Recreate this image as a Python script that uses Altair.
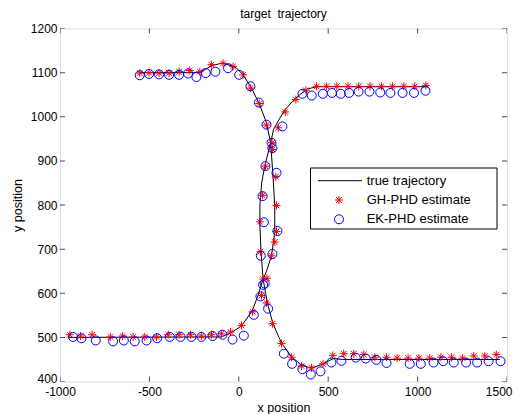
import altair as alt
import pandas as pd

# ---------------- data ----------------
# true trajectory, target A (starts top-left)
a_true_x = [-555, -250, -215, -150, -88, -15, 24, 71, 117, 155, 178, 190, 201, 201, 183, 155, 136,
            150, 165, 190, 239, 295, 351, 407, 471, 528, 580, 1460]
a_true_y = [1100, 1100, 1101, 1116, 1122, 1111, 1095, 1065, 1027, 986, 941, 873, 800, 738, 685, 650, 632,
            600, 570, 532, 487, 456, 437, 430, 440, 452, 450, 450]
# true trajectory, target B (starts bottom-left)
b_true_x = [-955, -100, -45, 15, 75, 110, 136, 125, 118, 118, 128, 145, 178, 195, 227, 257, 300, 341,
            385, 435, 1060]
b_true_y = [500, 501, 510, 526, 560, 598, 632, 690, 750, 800, 850, 888, 941, 972, 995, 1015, 1035, 1050,
            1063, 1068, 1068]

# GH-PHD estimates
gh_x = [-554, -502, -446, -390, -334, -274, -218, -153, -88, -32, 24, 65, 114, 154, 188, 207, 211, 211,
        201, 183, 158, 155, 188, 239, 295, 351, 407, 471, 526, 587, 643, 699, 761, 826, 885, 947, 1008,
        1068, 1130, 1190, 1251, 1314, 1376, 1440,
        -945, -885, -820, -718, -650, -591, -526, -460, -395, -334, -270, -209, -153, -97, -46, 15, 77,
        127, 136, 121, 118, 133, 149, 186, 220, 260, 319, 375, 435, 490, 548, 611, 671, 734, 798, 860,
        923, 984, 1046]
gh_y = [1099, 1100, 1099, 1099, 1102, 1105, 1102, 1118, 1121, 1114, 1095, 1065, 1030, 981, 926, 864, 799,
        740, 716, 685, 634, 578, 531, 486, 455, 435, 431, 440, 459, 463, 463, 461, 455, 455, 453, 453, 453,
        453, 455, 455, 453, 458, 458, 461,
        506, 503, 506, 501, 503, 501, 501, 501, 506, 506, 506, 503, 506, 508, 512, 527, 558, 595, 632,
        694, 762, 822, 888, 941, 975, 1011, 1039, 1060, 1069, 1069, 1069, 1069, 1069, 1069, 1069, 1069,
        1069, 1069, 1071]

# EK-PHD estimates
ek_x = [-554, -502, -446, -390, -334, -284, -237, -185, -131, -60, 2, 65, 112, 155, 188, 211, 216, 188,
        145, 164, 252, 298, 356, 403, 457, 518, 574, 654, 710, 769, 826, 956, 1018, 1089, 1143, 1202,
        1271, 1333, 1397, 1464,
        -927, -880, -800, -703, -643, -582, -516, -457, -386, -326, -265, -209, -147, -91, -35, 28, 84,
        121, 136, 123, 140, 133, 149, 183, 244, 356, 408, 470, 521, 570, 617, 670, 731, 791, 848, 916,
        980, 1044]
ek_y = [1094, 1097, 1096, 1095, 1095, 1098, 1090, 1099, 1102, 1110, 1095, 1069, 1032, 982, 929, 873, 741,
        689, 622, 565, 463, 440, 428, 416, 423, 443, 447, 454, 452, 449, 442, 440, 440, 443, 446, 443,
        443, 443, 446, 446,
        501, 498, 493, 491, 493, 491, 493, 498, 501, 501, 501, 501, 503, 506, 495, 504, 551, 593, 619,
        685, 761, 820, 888, 941, 978, 1052, 1048, 1052, 1054, 1052, 1054, 1057, 1057, 1055, 1054, 1054,
        1054, 1059]

x_ticks = [-1000, -500, 0, 500, 1000, 1500]
y_ticks = [400, 500, 600, 700, 800, 900, 1000, 1100, 1200]
legend_labels = ["true trajectory", "GH-PHD estimate", "EK-PHD estimate"]
title_text = "target \u00a0trajectory"

# ---------------- tables ----------------
true_df = pd.concat([
    pd.DataFrame({"x": a_true_x, "y": a_true_y, "target": "A", "idx": range(len(a_true_x))}),
    pd.DataFrame({"x": b_true_x, "y": b_true_y, "target": "B", "idx": range(len(b_true_x))}),
], ignore_index=True)
gh_df = pd.DataFrame({"x": gh_x, "y": gh_y})
ek_df = pd.DataFrame({"x": ek_x, "y": ek_y})
xt_df = pd.DataFrame({"v": x_ticks})
yt_df = pd.DataFrame({"v": y_ticks})
leg_df = pd.DataFrame({"label": legend_labels, "row": [0, 1, 2]})

# ---------------- styling ----------------
W, H = 447, 353
FONT = "Liberation Sans"
STAR = "M0,-1L0,1M-1,0L1,0M-0.7,-0.7L0.7,0.7M-0.7,0.7L0.7,-0.7"
PLAIN = "'' + datum.value"
LAST_X = f"datum.value == {x_ticks[-1]}"
FIRST_Y = f"datum.value == {y_ticks[0]}"

xs = alt.Scale(domain=[-1000, 1500], nice=False, zero=False)
ys = alt.Scale(domain=[400, 1200], nice=False, zero=False)

x_axis = alt.Axis(values=x_ticks, ticks=False, domain=False, grid=False, labelFlush=False,
                  labelOverlap=False, labelExpr=PLAIN, labelFont=FONT, labelFontSize=12,
                  labelColor="black", labelPadding=5,
                  labelAlign={"condition": {"test": LAST_X, "value": "right"}, "value": "center"},
                  labelOffset={"condition": {"test": LAST_X, "value": 5}, "value": 0},
                  title="x position", titleFont=FONT,
                  titleFontSize=12.5, titleFontWeight="normal", titleColor="black", titlePadding=4)
y_axis = alt.Axis(values=y_ticks, ticks=False, domain=False, grid=False, labelFlush=False,
                  labelOverlap=False, labelExpr=PLAIN, labelFont=FONT, labelFontSize=12,
                  labelColor="black", labelPadding=3,
                  labelOffset={"condition": {"test": FIRST_Y, "value": -3}, "value": 0},
                  title="y position", titleFont=FONT,
                  titleFontSize=12.5, titleFontWeight="normal", titleColor="black", titlePadding=6)

X = alt.X("x:Q", scale=xs, axis=x_axis)
Y = alt.Y("y:Q", scale=ys, axis=y_axis)

true_layer = alt.Chart(true_df).mark_line(color="black", strokeWidth=1, clip=True).encode(
    x=X, y=Y, detail="target:N", order="idx:Q")
gh_layer = alt.Chart(gh_df).mark_point(shape=STAR, size=64, color="#ff0000", strokeWidth=1,
                                       filled=False, opacity=1, clip=True).encode(x=X, y=Y)
ek_layer = alt.Chart(ek_df).mark_point(shape="circle", size=81, color="#0000ff", strokeWidth=1,
                                       filled=False, opacity=1, clip=True).encode(x=X, y=Y)

# inward ticks on all four sides
xt = alt.X("v:Q", scale=xs, axis=x_axis)
yt = alt.Y("v:Q", scale=ys, axis=y_axis)
tick_b = alt.Chart(xt_df).mark_tick(orient="vertical", size=10, thickness=1, color="black",
                                    clip=True).encode(x=xt, y=alt.value(H))
tick_t = alt.Chart(xt_df).mark_tick(orient="vertical", size=10, thickness=1, color="black",
                                    clip=True).encode(x=xt, y=alt.value(0))
tick_l = alt.Chart(yt_df).mark_tick(orient="horizontal", size=10, thickness=1, color="black",
                                    clip=True).encode(y=yt, x=alt.value(0))
tick_r = alt.Chart(yt_df).mark_tick(orient="horizontal", size=10, thickness=1, color="black",
                                    clip=True).encode(y=yt, x=alt.value(W))

# manual legend
LX0, LX1, LY0, LY1 = 250.5, 437, 139.5, 200.5
rows_y = [152.2, 171.5, 190.8]
leg_box = alt.Chart(leg_df).transform_filter("datum.row == 0").mark_rect(
    fill="white", stroke="black", strokeWidth=1).encode(
    x=alt.value(LX0), x2=alt.value(LX1), y=alt.value(LY0), y2=alt.value(LY1))
leg_line = alt.Chart(leg_df).transform_filter("datum.row == 0").mark_rule(
    color="black", strokeWidth=1).encode(
    x=alt.value(258), x2=alt.value(302), y=alt.value(rows_y[0]))
leg_star = alt.Chart(leg_df).transform_filter("datum.row == 1").mark_point(
    shape=STAR, size=64, color="#ff0000", strokeWidth=1, filled=False, opacity=1).encode(
    x=alt.value(279), y=alt.value(rows_y[1]))
leg_circ = alt.Chart(leg_df).transform_filter("datum.row == 2").mark_point(
    shape="circle", size=81, color="#0000ff", strokeWidth=1, filled=False, opacity=1).encode(
    x=alt.value(279), y=alt.value(rows_y[2]))
leg_texts = [
    alt.Chart(leg_df).transform_filter(f"datum.row == {i}").mark_text(
        align="left", baseline="middle", font=FONT, fontSize=13, color="black").encode(
        x=alt.value(306.7), y=alt.value(rows_y[i]), text="label:N")
    for i in range(3)
]

chart = alt.layer(
    true_layer, gh_layer, ek_layer, tick_b, tick_t, tick_l, tick_r,
    leg_box, leg_line, leg_star, leg_circ, *leg_texts
).properties(
    width=W, height=H,
    title=alt.TitleParams(title_text, font=FONT, fontSize=12, fontWeight="normal", color="black",
                          anchor="middle", offset=2),
    autosize=alt.AutoSizeParams(type="none"),
    padding={"left": 52, "top": 20.5, "right": 6, "bottom": 40},
).configure_view(stroke="black", strokeWidth=1).configure(background="white")

chart.save("out.html", embed_options={"renderer": "svg", "actions": False})
